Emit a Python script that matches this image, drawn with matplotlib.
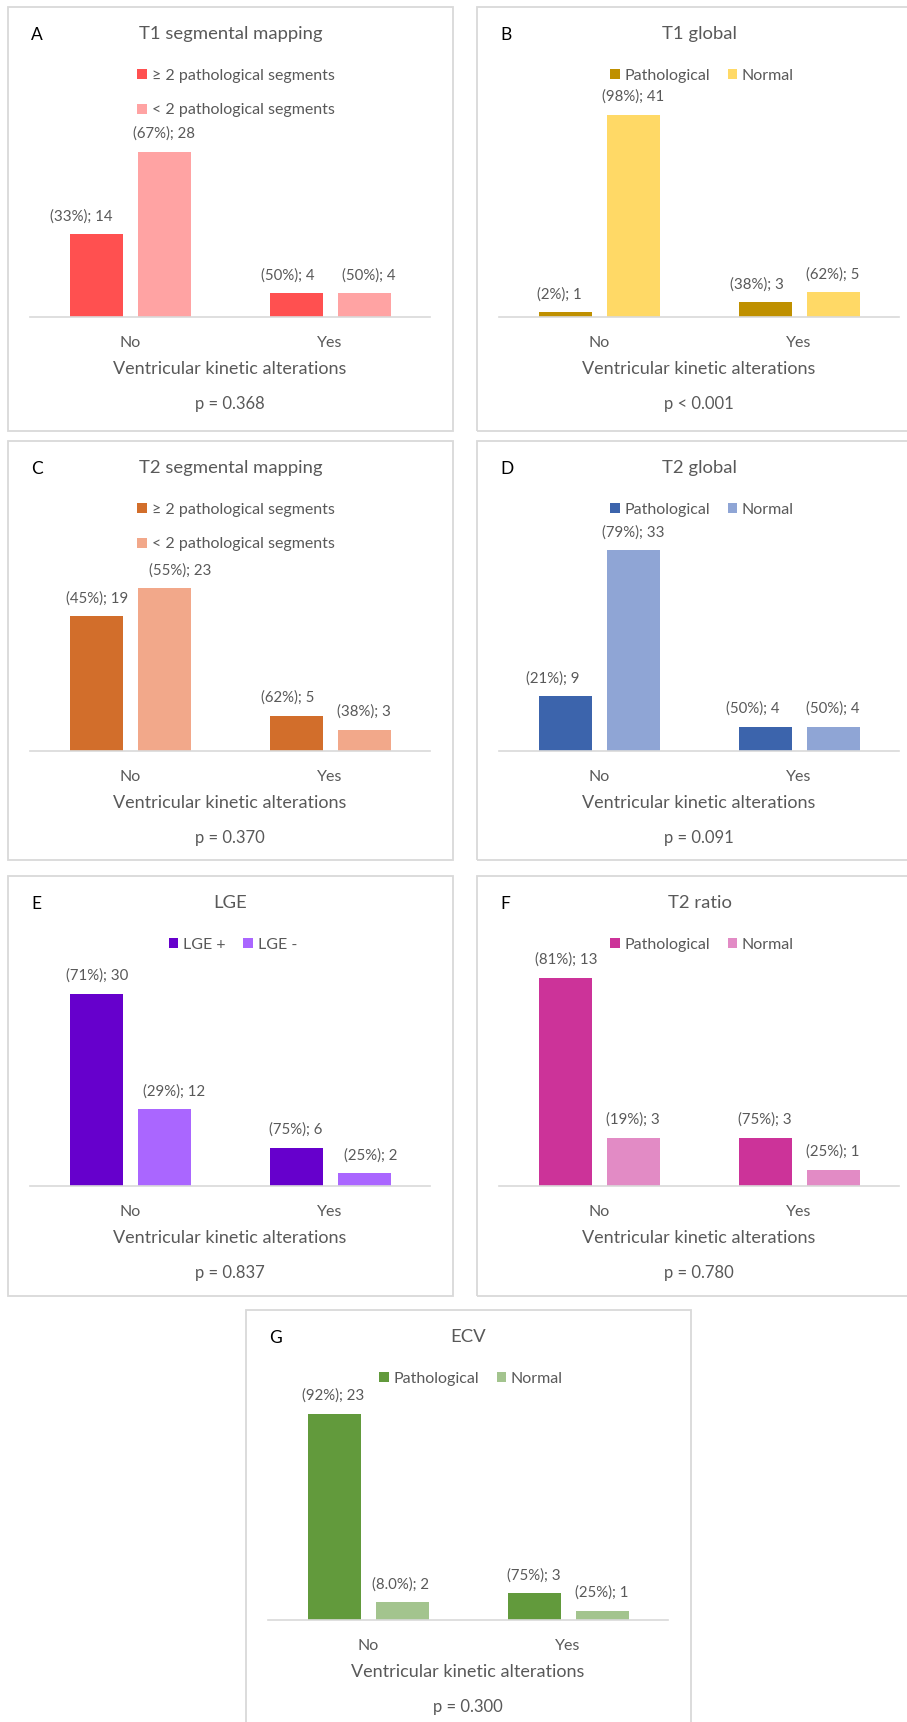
import matplotlib
matplotlib.use('Agg')
import matplotlib.pyplot as plt
from matplotlib.patches import Rectangle
import numpy as np

# ---- data ----
letters = ['A', 'B', 'C', 'D', 'E', 'F', 'G']
titles = ['T1 segmental mapping', 'T1 global', 'T2 segmental mapping', 'T2 global',
          'LGE', 'T2 ratio', 'ECV']
series_names = [
    ['≥ 2 pathological segments', '< 2 pathological segments'],
    ['Pathological', 'Normal'],
    ['≥ 2 pathological segments', '< 2 pathological segments'],
    ['Pathological', 'Normal'],
    ['LGE +', 'LGE -'],
    ['Pathological', 'Normal'],
    ['Pathological', 'Normal'],
]
categories = ['No', 'Yes']
first_counts = [[14, 4], [1, 3], [19, 5], [9, 4], [30, 6], [13, 3], [23, 3]]
second_counts = [[28, 4], [41, 5], [23, 3], [33, 4], [12, 2], [3, 1], [2, 1]]
first_pct = [['33%', '50%'], ['2%', '38%'], ['45%', '62%'], ['21%', '50%'],
             ['71%', '75%'], ['81%', '75%'], ['92%', '75%']]
second_pct = [['67%', '50%'], ['98%', '62%'], ['55%', '38%'], ['79%', '50%'],
              ['29%', '25%'], ['19%', '25%'], ['8.0%', '25%']]
p_values = ['p = 0.368', 'p < 0.001', 'p = 0.370', 'p = 0.091',
            'p = 0.837', 'p = 0.780', 'p = 0.300']
x_title = 'Ventricular kinetic alterations'

# ---- style ----
dark = ['#FF5050', '#BF9000', '#D26E2B', '#3C64AC', '#6600CC', '#CC3399', '#629A3C']
light = ['#FFA3A3', '#FFD966', '#F2A88A', '#8FA5D5', '#AA66FF', '#E28BC5', '#A3C48E']
GRAY = '#595959'
LINE = '#D9D9D9'

W, H = 907, 1722
BOX_W = 445
box_origin = [(8, 7), (477, 7), (8, 441), (477, 441), (8, 876), (477, 876), (246, 1310)]
box_h = [424, 424, 419, 419, 420, 420, 424]
ymax = [30, 45, 25, 35, 35, 14, 25]
plot_h = [177, 222, 177, 213, 224, 224, 224]
# horizontal nudges (px) of the value labels: [No-1, No-2, Yes-1, Yes-2]
label_dx = [[-15, 0, -8, 5], [-6, 0, -8, 0], [1, 16, -8, 0], [-12, 0, -12, 0],
            [1, 10, 0, 7], [1, 0, 0, 0], [-1, -1, 0, 0]]

plt.rcParams['font.family'] = ['Lato', 'DejaVu Sans']


def fx(x):
    return x / W


def fy(y):
    return 1 - y / H


fig = plt.figure(figsize=(W / 100, H / 100), dpi=100)
fig.patch.set_facecolor('white')

for i in range(7):
    bx, by = box_origin[i]
    bh = box_h[i]
    fig.add_artist(Rectangle((fx(bx), fy(by + bh)), BOX_W / W, bh / H,
                             transform=fig.transFigure, fill=False,
                             edgecolor=LINE, lw=1.3))

    base = by + 310
    ax = fig.add_axes([fx(bx + 22), fy(base), 400 / W, plot_h[i] / H])
    x = np.arange(len(categories))
    b1 = ax.bar(x - 0.17, first_counts[i], 0.265, color=dark[i], label=series_names[i][0])
    b2 = ax.bar(x + 0.17, second_counts[i], 0.265, color=light[i], label=series_names[i][1])
    ax.set_xlim(-0.5, 1.5)
    ax.set_ylim(0, ymax[i])
    ax.patch.set_alpha(0)
    for s in ['top', 'left', 'right']:
        ax.spines[s].set_visible(False)
    ax.spines['bottom'].set_color(LINE)
    ax.spines['bottom'].set_linewidth(1.2)
    ax.set_yticks([])
    ax.set_xticks(x, categories)
    ax.tick_params(axis='x', length=0, pad=14, labelsize=11.5, labelcolor=GRAY)

    # value labels: "(share); count" above each bar
    for j in range(len(categories)):
        for n, (bars, pcts) in enumerate(((b1, first_pct[i]), (b2, second_pct[i]))):
            rect = bars[j]
            val = int(rect.get_height())
            ax.annotate(f'({pcts[j]}); {val}',
                        xy=(rect.get_x() + rect.get_width() / 2, rect.get_height()),
                        xytext=(label_dx[i][2 * j + n], 18), textcoords='offset pixels',
                        ha='center', va='center', fontsize=10.8, color=GRAY)

    two_rows = len(series_names[i][0]) > 14
    if two_rows:
        ax.legend(handles=[b1, b2], loc='center', ncol=1,
                  bbox_to_anchor=(fx(bx + 228), fy(by + 86)), bbox_transform=fig.transFigure,
                  frameon=False, fontsize=11.5, labelcolor=GRAY, handlelength=0.6,
                  handleheight=0.6, handletextpad=0.3, labelspacing=1.3,
                  borderpad=0, borderaxespad=0)
    else:
        ax.legend(handles=[b1, b2], loc='center', ncol=2,
                  bbox_to_anchor=(fx(bx + 225), fy(by + 69)), bbox_transform=fig.transFigure,
                  frameon=False, fontsize=11.5, labelcolor=GRAY, handlelength=0.6,
                  handleheight=0.6, handletextpad=0.3, columnspacing=1.1,
                  borderpad=0, borderaxespad=0)

    fig.text(fx(bx + 23), fy(by + 28), letters[i], fontsize=12.5, color='black',
             ha='left', va='center')
    fig.text(fx(bx + BOX_W / 2), fy(by + 27), titles[i], fontsize=13.3, color=GRAY,
             ha='center', va='center')
    fig.text(fx(bx + 22 + 200), fy(by + 362), x_title, fontsize=13, color=GRAY,
             ha='center', va='center')
    fig.text(fx(bx + 22 + 200), fy(by + 397), p_values[i], fontsize=12, color=GRAY,
             ha='center', va='center')

fig.savefig('out.png', dpi=100, facecolor='white')
